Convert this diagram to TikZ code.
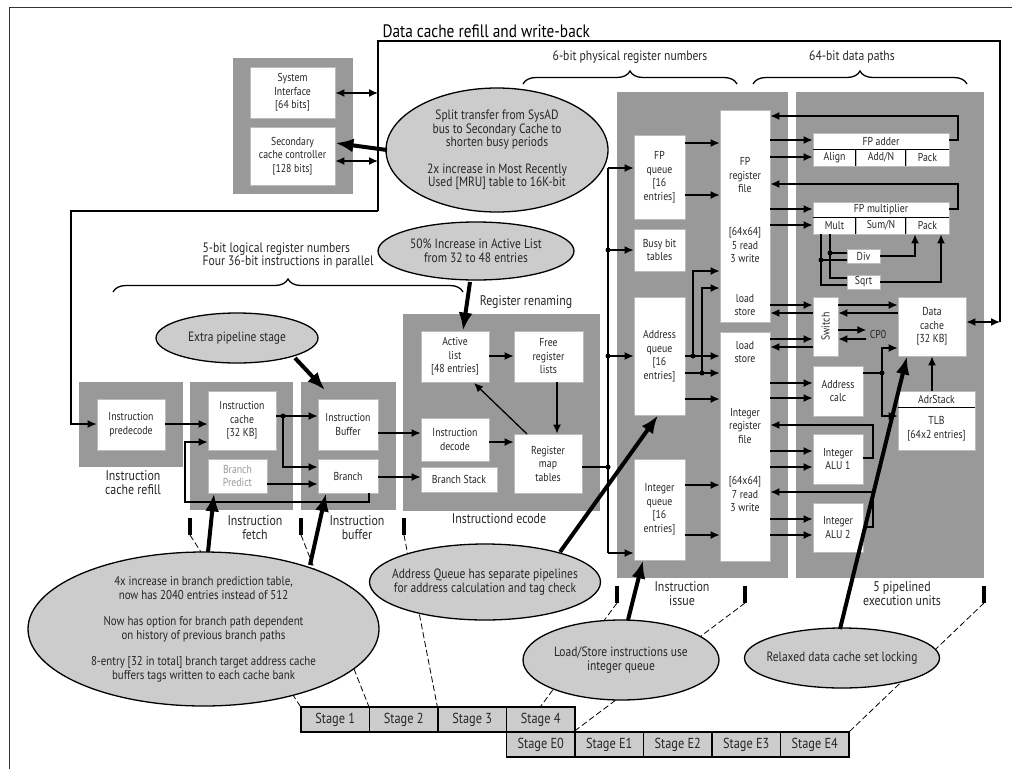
\documentclass[tikz,border=0pt]{standalone}
\usepackage{fontspec}
\setmainfont{PT Sans}[FakeStretch=0.85]
\usetikzlibrary{arrows.meta,shapes.geometric,decorations.pathreplacing}
\definecolor{grpgray}{HTML}{999999}
\definecolor{ellgray}{HTML}{CCCCCC}
\definecolor{boxedge}{HTML}{BBBBBB}
\definecolor{txt}{HTML}{262626}
\newcommand\fttl{\fontsize{18}{21}\selectfont}
\newcommand\fbr{\fontsize{13.5}{13.5}\selectfont}
\newcommand\fbrb{\fontsize{12.8}{14}\selectfont}
\newcommand\fbrc{\fontsize{13.7}{13.5}\selectfont}
\newcommand\fbx{\fontsize{11.5}{13.5}\selectfont}
\newcommand\flab{\fontsize{14}{14}\selectfont}
\newcommand\fst{\fontsize{14.5}{15}\selectfont}
\newcommand\mybox[7]{\node[#1,minimum width={#5-#3},minimum height={#6-#4}] (#2) at ({(#3+#5)/2},{(#4+#6)/2}) {#7};}
\tikzset{
 grp/.style={fill=grpgray,draw=none,inner sep=0pt},
 ubox/.style={fill=white,draw=boxedge,line width=0.8pt,inner sep=0pt,align=center,font=\fbx,text=txt},
 ell/.style={ellipse,fill=ellgray,draw=black,line width=1.3pt,inner sep=0pt},
 etext/.style={align=center,font=\fbr,text=txt},
 lab/.style={align=center,font=\flab,text=txt},
 brlab/.style={align=center,font=\fbrc,text=txt},
 wire/.style={line width=1.3pt},
 conn/.style={line width=1.3pt,-{Latex[length=9pt,width=8pt]}},
 conn2/.style={line width=1.3pt,{Latex[length=9pt,width=8pt]}-{Latex[length=9pt,width=8pt]}},
 big/.style={line width=4pt,-{Latex[length=18pt,width=14pt]}},
 dsh/.style={line width=0.8pt,dash pattern=on 6pt off 3pt},
 tickmark/.style={line width=4pt},
 stg/.style={draw=black,line width=1.5pt,fill=ellgray,minimum width=68.5pt,minimum height=25pt,inner sep=0pt,font=\fst,text=txt},
 brc/.style={line width=1.3pt,decorate,decoration={brace,amplitude=13pt}},
}
\begin{document}
\begin{tikzpicture}[x=1pt,y=-1pt]
\useasboundingbox (0,0) rectangle (1012,769);
\draw[line width=1pt,black!80] (9,769) -- (9,7) -- (1012,7);

% ---------- gray groups
\mybox{grp}{sysgrp}{233}{58}{353}{194}{}
\mybox{grp}{refillgrp}{79}{382}{183}{467}{}
\mybox{grp}{fetchgrp}{190}{382}{293}{510}{}
\mybox{grp}{bufgrp}{301}{382}{396}{510}{}
\mybox{grp}{rengrp}{403}{314}{600}{511}{}
\mybox{grp}{issuegrp}{617}{92}{788}{578}{}
\mybox{grp}{execgrp}{796}{92}{984}{578}{}

% ---------- dashed stage guides
\coordinate (t1) at (190,535);
\coordinate (t2) at (301,535);
\coordinate (t3) at (404,535);
\coordinate (t4) at (617,603);
\coordinate (t5) at (745,603);
\coordinate (t6) at (984,603);
\node[stg] (s1) at (335.25,719.5) {Stage 1};
\node[stg] (s2) at (403.75,719.5) {Stage 2};
\node[stg] (s3) at (472.25,719.5) {Stage 3};
\node[stg] (s4) at (540.75,719.5) {Stage 4};
\node[stg] (e0) at (540.75,744.5) {Stage E0};
\node[stg] (e1) at (609.25,744.5) {Stage E1};
\node[stg] (e2) at (677.75,744.5) {Stage E2};
\node[stg] (e3) at (746.25,744.5) {Stage E3};
\node[stg] (e4) at (814.75,744.5) {Stage E4};
\draw[dsh] (t1) -- (s1.north west);
\draw[dsh] (t2) -- (s2.north west);
\draw[dsh] (t3) -- (s3.north west);
\draw[dsh] (t4) -- (s4.north);
\draw[dsh] (t5) -- (e1.north west);
\draw[dsh] (t6) -- (e4.north east);

% ---------- ellipses
\node[ell,minimum width=222pt,minimum height=124pt] (elsplit) at (497,150) {};
\node[etext] at (elsplit) {Split transfer from SysAD\\bus to Secondary Cache to\\shorten busy periods\\[13pt]2x increase in Most Recently\\Used [MRU] table to 16K-bit};
\node[ell,minimum width=196pt,minimum height=58pt] (elactive) at (476,251) {};
\node[etext] at (elactive) {50\% Increase in Active List\\from 32 to 48 entries};
\node[ell,minimum width=162pt,minimum height=50pt] (elextra) at (237,338) {};
\node[etext] at (elextra) {Extra pipeline stage};
\node[ell,minimum width=351pt,minimum height=154pt] (elbranch) at (203.5,629) {};
\node[etext,font=\fbrb] at (elbranch) {4x increase in branch prediction table,\\now has 2040 entries instead of 512\\[12pt]Now has option for branch path dependent\\on history of previous branch paths\\[12pt]8-entry [32 in total] branch target address cache\\buffers tags written to each cache bank};
\node[ell,minimum width=231pt,minimum height=76pt] (eladdr) at (485,582) {};
\node[etext] at (eladdr) {Address Queue has separate pipelines\\for address calculation and tag check};
\node[ell,minimum width=196pt,minimum height=80pt] (ells) at (621,660) {};
\node[etext] at (621,660) {Load/Store instructions use\\integer queue};
\node[ell,minimum width=195pt,minimum height=60pt] (elrelax) at (842,658) {};
\node[etext] at (elrelax) {Relaxed data cache set locking};

% ---------- texts
\node[anchor=west,font=\fttl] (title) at (379,31) {Data cache refill and write-back};
\node[brlab] (lphys) at (630,57) {6-bit physical register numbers};
\node[brlab] (ldata) at (852,57) {64-bit data paths};
\node[brlab,align=left,anchor=west] (llog) at (199,255.5) {5-bit logical register numbers\\Four 36-bit instructions in parallel};
\node[lab] (lren) at (526,302) {Register renaming};
\node[lab] (ldec) at (499,519) {Instructiond ecode};
\node[lab] (lrefill) at (133,483) {Instruction\\cache refill};
\node[lab] (lfetch) at (255,528) {Instruction\\fetch};
\node[lab] (lbuf) at (357,528) {Instruction\\buffer};
\node[lab] (lissue) at (682,594) {Instruction\\issue};
\node[lab] (lexec) at (902,594) {5 pipelined\\execution units};
\draw[brc] (523,84) -- (737,84);
\draw[brc] (753,84) -- (967,84);
\draw[brc] (113,292) -- (463,292);

% ---------- boxes
\mybox{ubox}{sysint}{250}{67}{335}{118}{System\\Interface\\{[}64 bits]}
\mybox{ubox}{secc}{250}{127}{335}{185}{Secondary\\cache controller\\{[}128 bits]}
\mybox{ubox}{pred}{97}{399}{165}{450}{Instruction\\predecode}
\mybox{ubox}{icache}{208}{391}{276}{450}{Instruction\\cache\\{[}32 KB]}
\mybox{ubox,text=black!40}{bpred}{208}{459}{267}{493}{Branch\\Predict}
\mybox{ubox}{ibuf}{318}{399}{378}{450}{Instruction\\Buffer}
\mybox{ubox}{branch}{318}{459}{378}{493}{Branch}
\mybox{ubox}{active}{421}{331}{489}{382}{Active\\list\\{[}48 entries]}
\mybox{ubox}{free}{514}{331}{583}{382}{Free\\register\\lists}
\mybox{ubox}{idec}{421}{418}{489}{461}{Instruction\\decode}
\mybox{ubox}{bstack}{421}{467}{497}{492}{Branch Stack}
\mybox{ubox}{rmap}{514}{434}{582}{493}{Register\\map\\tables}
\mybox{ubox}{fpq}{634}{135}{685}{219}{FP\\queue\\{[}16\\entries]}
\mybox{ubox}{busy}{634}{229}{685}{271}{Busy bit\\tables}
\mybox{ubox}{addrq}{634}{297}{685}{415}{Address\\queue\\{[}16\\entries]}
\mybox{ubox}{intq}{634}{459}{685}{560}{Integer\\queue\\{[}16\\entries]}
\mybox{ubox}{fpreg}{720}{110}{770}{322}{}
\node[ubox,draw=none,fill=none] at (745,175) {FP\\register\\file};
\node[ubox,draw=none,fill=none] at (745,245) {{[}64x64]\\5 read\\3 write};
\node[ubox,draw=none,fill=none] at (745,305) {load\\store};
\mybox{ubox}{intreg}{720}{332}{770}{561}{}
\node[ubox,draw=none,fill=none] at (745,352) {load\\store};
\node[ubox,draw=none,fill=none] at (745,426) {Integer\\register\\file};
\node[ubox,draw=none,fill=none] at (745,494) {{[}64x64]\\7 read\\3 write};
\mybox{ubox}{fpadd}{813}{133}{949}{149}{FP adder}
\mybox{ubox}{fpaddA}{813}{149}{856}{166}{Align}
\mybox{ubox}{fpaddB}{856}{149}{906}{166}{Add/N}
\mybox{ubox}{fpaddC}{906}{149}{949}{166}{Pack}
\draw[line width=1.2pt] (fpadd.south west) -- (fpadd.south east);
\draw[line width=1.2pt] (fpaddB.north west) -- (fpaddB.south west);
\draw[line width=1.2pt] (fpaddC.north west) -- (fpaddC.south west);
\mybox{ubox}{fpmul}{813}{202}{949}{217}{FP multiplier}
\mybox{ubox}{fpmulA}{813}{217}{856}{234}{Mult}
\mybox{ubox}{fpmulB}{856}{217}{906}{234}{Sum/N}
\mybox{ubox}{fpmulC}{906}{217}{949}{234}{Pack}
\draw[line width=1.2pt] (fpmul.south west) -- (fpmul.south east);
\draw[line width=1.2pt] (fpmulB.north west) -- (fpmulB.south west);
\draw[line width=1.2pt] (fpmulC.north west) -- (fpmulC.south west);
\mybox{ubox}{div}{847}{249}{880}{263}{Div}
\mybox{ubox}{sqrt}{847}{275}{880}{289}{Sqrt}
\mybox{ubox}{switch}{813}{297}{838}{356}{}
\node[rotate=90,font=\fbx,text=txt] at (switch) {Switch};
\mybox{ubox}{dcache}{898}{297}{966}{356}{Data\\cache\\{[}32 KB]}
\mybox{ubox}{acalc}{813}{366}{863}{416}{Address\\calc}
\mybox{ubox}{adr}{898}{391}{975}{407}{AdrStack}
\mybox{ubox}{tlb}{898}{407}{975}{450}{TLB\\{[}64x2 entries]}
\draw[line width=1.2pt] (adr.south west) -- (adr.south east);
\mybox{ubox}{alu1}{813}{434}{863}{484}{Integer\\ALU 1}
\mybox{ubox}{alu2}{813}{503}{863}{552}{Integer\\ALU 2}
\node[font=\fbx,text=txt] (cp0) at (878,334) {CP0};

% ---------- refill / write-back bus
\draw[wire] (378,211) -- (378,41) -- (1000,41) -- (1000,322);
\draw[conn] (378,211) -- (71,211) -- (71,424) -- (pred.west |- 0,424);
\draw[conn2] (sysint.east |- 0,93) -- (378,93);
\draw[conn2] (secc.east |- 0,161) -- (378,161);
\draw[conn2] (dcache.east |- 0,322) -- (1000,322);

% ---------- front end
\draw[conn] (pred.east |- 0,424) -- (icache.west |- 0,424);
\draw[conn] (branch.south -| 369,0) -- (369,502) -- (185,502) -- (185,442) -- (icache.west |- 0,442);
\draw[conn] (icache.east |- 0,416) -- (ibuf.west |- 0,416);
\draw[conn] (283,416) -- (283,467) -- (branch.west |- 0,467);
\fill (283,416) circle[radius=2.5pt];
\draw[conn] (bpred.east |- 0,484) -- (branch.west |- 0,484);
\draw[conn] (ibuf.east |- 0,433) -- (idec.west |- 0,433);
\draw[conn] (branch.east |- 0,477) -- (bstack.west |- 0,477);
\draw[conn] (active.east |- 0,356) -- (free.west |- 0,356);
\draw[conn] (free.south -| 557,0) -- (rmap.north -| 557,0);
\draw[conn] (idec.east |- 0,442) -- (rmap.west |- 0,442);
\draw[conn] (527,434) -- (474,383);

% ---------- issue
\draw[wire] (rmap.east |- 0,467) -- (608,467);
\draw[wire] (608,168) -- (608,553);
\draw[conn] (608,168) -- (fpq.west |- 0,168);
\draw[conn] (608,250) -- (busy.west |- 0,250);
\draw[conn] (608,356) -- (addrq.west |- 0,356);
\draw[conn] (608,553) -- (intq.west |- 0,553);
\foreach \yy in {250,356,467} \fill (608,\yy) circle[radius=2.5pt];
\draw[conn] (fpq.east |- 0,143) -- (fpreg.west |- 0,143);
\draw[conn] (fpq.east |- 0,195) -- (fpreg.west |- 0,195);
\draw[conn] (addrq.east |- 0,356) -- (intreg.west |- 0,356);
\draw[conn] (addrq.east |- 0,373) -- (intreg.west |- 0,373);
\draw[conn] (addrq.east |- 0,399) -- (intreg.west |- 0,399);
\draw[conn] (693,356) -- (693,271) -- (fpreg.west |- 0,271);
\draw[conn] (702,373) -- (702,288) -- (fpreg.west |- 0,288);
\fill (693,356) circle[radius=2.5pt];
\fill (702,373) circle[radius=2.5pt];
\draw[conn] (intq.east |- 0,485) -- (intreg.west |- 0,485);
\draw[conn] (intq.east |- 0,535) -- (intreg.west |- 0,535);

% ---------- execution
\draw[conn] (fpreg.east |- 0,140) -- (fpadd.west |- 0,140);
\draw[conn] (fpreg.east |- 0,157) -- (fpaddA.west |- 0,157);
\draw[conn] (fpadd.east |- 0,140) -- (958,140) -- (958,116) -- (fpreg.east |- 0,116);
\draw[conn] (fpreg.east |- 0,209) -- (fpmul.west |- 0,209);
\draw[conn] (fpreg.east |- 0,225) -- (fpmulA.west |- 0,225);
\draw[conn] (fpmul.east |- 0,209) -- (958,209) -- (958,184) -- (fpreg.east |- 0,184);
\draw[wire] (fpmulA.south -| 821,0) -- (821,285) -- (sqrt.west |- 0,285);
\draw[wire] (fpmulA.south -| 830,0) -- (830,278) -- (sqrt.west |- 0,278);
\draw[wire] (821,260) -- (div.west |- 0,260);
\draw[wire] (830,253) -- (div.west |- 0,253);
\fill (821,260) circle[radius=2.5pt];
\fill (830,253) circle[radius=2.5pt];
\draw[conn] (div.east |- 0,256) -- (915,256) -- (fpmulC.south -| 915,0);
\draw[conn] (sqrt.east |- 0,282) -- (941,282) -- (fpmulC.south -| 941,0);
\draw[conn] (fpreg.east |- 0,305) -- (switch.west |- 0,305);
\draw[conn] (switch.west |- 0,313) -- (fpreg.east |- 0,313);
\draw[conn] (intreg.east |- 0,339) -- (switch.west |- 0,339);
\draw[conn] (switch.west |- 0,347) -- (intreg.east |- 0,347);
\draw[conn] (switch.east |- 0,305) -- (dcache.west |- 0,305);
\draw[conn] (dcache.west |- 0,313) -- (switch.east |- 0,313);
\draw[conn] (switch.east |- 0,330) -- (cp0.west |- 0,330);
\draw[conn] (cp0.west |- 0,339) -- (switch.east |- 0,339);
\draw[conn] (intreg.east |- 0,383) -- (acalc.west |- 0,383);
\draw[conn] (intreg.east |- 0,398) -- (acalc.west |- 0,398);
\draw[wire] (acalc.east |- 0,373) -- (882,373);
\draw[conn] (882,373) -- (882,348) -- (dcache.west |- 0,348);
\draw[conn] (882,373) -- (882,416) -- (tlb.west |- 0,416);
\fill (882,373) circle[radius=2.5pt];
\draw[conn] (adr.north -| 932,0) -- (dcache.south -| 932,0);
\draw[conn] (intreg.east |- 0,451) -- (alu1.west |- 0,451);
\draw[conn] (intreg.east |- 0,467) -- (alu1.west |- 0,467);
\draw[conn] (alu1.east |- 0,458) -- (873,458) -- (873,425) -- (intreg.east |- 0,425);
\draw[conn] (intreg.east |- 0,519) -- (alu2.west |- 0,519);
\draw[conn] (intreg.east |- 0,535) -- (alu2.west |- 0,535);
\draw[conn] (alu2.east |- 0,527) -- (873,527) -- (873,492) -- (intreg.east |- 0,492);

% ---------- thick pointers
\draw[big] (387,150) -- (secc.east |- 0,143);
\draw[big] (470,282) -- (active.north -| 463,0);
\draw[big] (295,358) -- (325,390);
\draw[big] (208,552) -- (bpred.south -| 214,0);
\draw[big] (310,565) -- (branch.south -| 326,0);
\draw[big] (560,552) -- (addrq.south -| 658,0);
\draw[big] (628,620) -- (intq.south -| 643,0);
\draw[big] (840,629) -- (dcache.south -| 907,0);

% ---------- stage ticks
\foreach \xx in {190,301,404} \draw[tickmark] (\xx,518) -- (\xx,535);
\foreach \xx in {617,745,984} \draw[tickmark] (\xx,586) -- (\xx,603);
\end{tikzpicture}
\end{document}
